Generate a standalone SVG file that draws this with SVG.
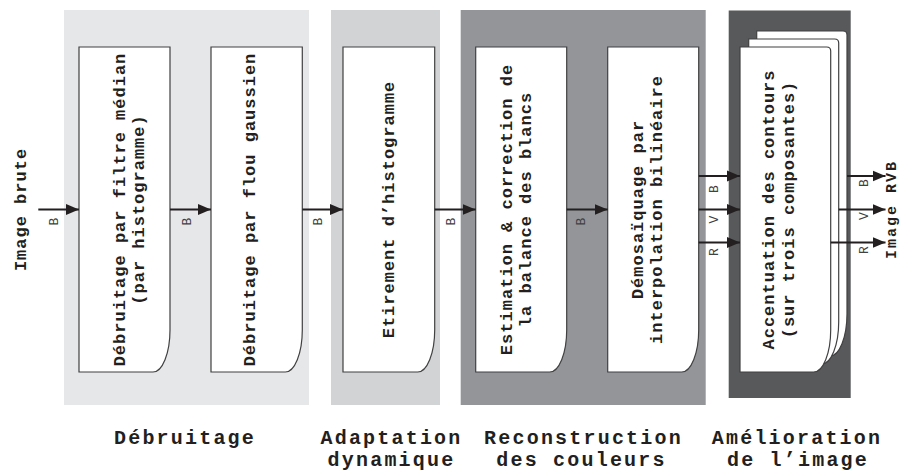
<svg xmlns="http://www.w3.org/2000/svg" width="900" height="473" viewBox="0 0 900 473">
  <style>
    .t { font-family: "Liberation Mono", "Courier New", monospace; font-weight: bold; font-size: 17px; letter-spacing: 1px; fill: #231f20; text-anchor: middle; }
    .cap { font-size: 20px; letter-spacing: 2.2px; }
    .edge { font-size: 15px; letter-spacing: 2px; }
    .ch { font-family: "Liberation Mono", "Courier New", monospace; font-weight: normal; font-size: 13px; fill: #414042; text-anchor: middle; }
    .node { fill: #ffffff; stroke: #414042; stroke-width: 1.2; }
    .wire { stroke: #231f20; stroke-width: 2; fill: none; marker-end: url(#head); }
  </style>
  <defs>
    <marker id="head" markerUnits="userSpaceOnUse" markerWidth="14" markerHeight="12" refX="13" refY="6" orient="auto">
      <path d="M0,0.5 L13,6 L0,11.5 Z" fill="#231f20"/>
    </marker>
  </defs>

  <!-- stage backgrounds -->
  <g id="stages">
    <rect x="64" y="10" width="245" height="395" fill="#e6e7e8"/>
    <rect x="331" y="10" width="109" height="395" fill="#d1d3d4"/>
    <rect x="460.7" y="10" width="245" height="395" fill="#939598"/>
    <rect x="728.7" y="10.5" width="122" height="387.5" fill="#58595b"/>
  </g>

  <!-- processing blocks -->
  <g id="n1">
    <path class="node" d="M79,47 H170 V330 A17,42 0 0 1 153,372 H79 Z"/>
    <text class="t" transform="translate(125,209.5) rotate(-90)">Débruitage par filtre médian</text>
    <text class="t" transform="translate(143.8,209.5) rotate(-90)">(par histogramme)</text>
  </g>
  <g id="n2">
    <path class="node" d="M211,47 H302.3 V330 A17,42 0 0 1 285.3,372 H211 Z"/>
    <text class="t" transform="translate(254.5,209.5) rotate(-90)">Débruitage par flou gaussien</text>
  </g>
  <g id="n3">
    <path class="node" d="M343,47 H434.7 V330 A17,42 0 0 1 417.7,372 H343 Z"/>
    <text class="t" transform="translate(393.5,209.5) rotate(-90)">Etirement d’histogramme</text>
  </g>
  <g id="n4">
    <path class="node" d="M475.7,47 H566.7 V330 A17,42 0 0 1 549.7,372 H475.7 Z"/>
    <text class="t" transform="translate(511.5,209.5) rotate(-90)">Estimation &amp; correction de</text>
    <text class="t" transform="translate(531,209.5) rotate(-90)">la balance des blancs</text>
  </g>
  <g id="n5">
    <path class="node" d="M607.7,47 H698.7 V330 A17,42 0 0 1 681.7,372 H607.7 Z"/>
    <text class="t" transform="translate(642.7,209.5) rotate(-90)">Démosaïquage par</text>
    <text class="t" transform="translate(661.7,209.5) rotate(-90)">interpolation bilinéaire</text>
  </g>
  <g id="n6">
    <path class="node" d="M756.7,31 H843 Q847,31 847,35 V314 A17,42 0 0 1 830,356 H756.7 Z"/>
    <path class="node" d="M748.7,39 H834.7 Q838.7,39 838.7,43 V322 A17,42 0 0 1 821.7,364 H748.7 Z"/>
    <path class="node" d="M740,47 H826.7 Q830.7,47 830.7,51 V330 A17,42 0 0 1 813.7,372 H740 Z"/>
    <text class="t" transform="translate(774,209.5) rotate(-90)">Accentuation des contours</text>
    <text class="t" transform="translate(793.5,209.5) rotate(-90)">(sur trois composantes)</text>
  </g>

  <!-- input / output -->
  <g id="in">
    <text class="t" transform="translate(26,209.5) rotate(-90)">Image brute</text>
  </g>
  <g id="out">
    <text class="t edge" transform="translate(896.3,209.5) rotate(-90)">Image RVB</text>
  </g>

  <!-- connectors -->
  <g id="connectors">
    <line class="wire" x1="38.3" y1="209.5" x2="79" y2="209.5"/>
    <line class="wire" x1="170" y1="209.5" x2="211" y2="209.5"/>
    <line class="wire" x1="302.3" y1="209.5" x2="343" y2="209.5"/>
    <line class="wire" x1="434.7" y1="209.5" x2="475.7" y2="209.5"/>
    <line class="wire" x1="566.7" y1="209.5" x2="607.7" y2="209.5"/>
    <line class="wire" x1="698.7" y1="176" x2="740" y2="176"/>
    <line class="wire" x1="698.7" y1="209.5" x2="740" y2="209.5"/>
    <line class="wire" x1="698.7" y1="242.5" x2="740" y2="242.5"/>
    <line class="wire" x1="847" y1="176" x2="885.5" y2="176"/>
    <line class="wire" x1="838.7" y1="209.5" x2="885.5" y2="209.5"/>
    <line class="wire" x1="830.7" y1="242.5" x2="885.5" y2="242.5"/>

    <text class="ch" transform="translate(58,221.5) rotate(-90)">B</text>
    <text class="ch" transform="translate(191,221.5) rotate(-90)">B</text>
    <text class="ch" transform="translate(322,221.5) rotate(-90)">B</text>
    <text class="ch" transform="translate(454.5,221.5) rotate(-90)">B</text>
    <text class="ch" transform="translate(585,221.5) rotate(-90)">B</text>
    <text class="ch" transform="translate(717.5,189) rotate(-90)">B</text>
    <text class="ch" transform="translate(717.5,219.5) rotate(-90)">V</text>
    <text class="ch" transform="translate(717.5,252) rotate(-90)">R</text>
    <text class="ch" transform="translate(867.5,183) rotate(-90)">B</text>
    <text class="ch" transform="translate(867.5,216) rotate(-90)">V</text>
    <text class="ch" transform="translate(867.5,250) rotate(-90)">R</text>
  </g>

  <!-- stage captions -->
  <g id="captions">
    <text class="t cap" x="185" y="444">Débruitage</text>
    <text class="t cap" x="391.5" y="444">Adaptation</text>
    <text class="t cap" x="391.5" y="466">dynamique</text>
    <text class="t cap" x="583.5" y="444">Reconstruction</text>
    <text class="t cap" x="581.5" y="466">des couleurs</text>
    <text class="t cap" x="797" y="444">Amélioration</text>
    <text class="t cap" x="798" y="466">de l’image</text>
  </g>
</svg>
